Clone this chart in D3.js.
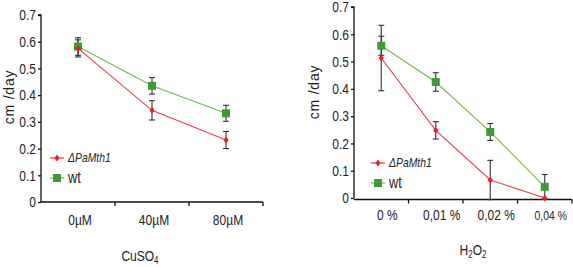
<!DOCTYPE html>
<html>
<head>
<meta charset="utf-8">
<script src="https://cdn.jsdelivr.net/npm/d3@7"></script>
<style>
  body { margin: 0; background: #fff; }
  svg { display: block; }
  text { font-family: "Liberation Sans", Arial, sans-serif; fill: #222; }
</style>
</head>
<body>
<svg id="chart" width="573" height="267"></svg>
<script>
// left panel: CuSO4
const cuCats = ['0µM', '40µM', '80µM']
const cuMut = [0.575, 0.343, 0.232]
const cuMutErr = [0.032, 0.036, 0.032]
const cuWt = [0.582, 0.435, 0.332]
const cuWtErr = [0.033, 0.031, 0.030]

// right panel: H2O2
const hCats = ['0 %', '0,01 %', '0,02 %', '0,04 %']
const hMut = [0.513, 0.248, 0.066, 0.0]
const hMutErr = [0.12, 0.032, 0.072, 0]
const hWt = [0.558, 0.425, 0.242, 0.041]
const hWtErr = [0.035, 0.034, 0.031, 0.045]

const yTicks = [0, 0.1, 0.2, 0.3, 0.4, 0.5, 0.6, 0.7]

const red = '#e0242c', redLine = '#e0404a'
const green = '#3f9a35', greenLine = '#72b84e'
const narrow = 0.8 // no narrow font installed, squeeze text horizontally

const svg = d3.select('#chart')

function panel(opt) {
	const x = d3.scaleBand().domain(opt.cats).range([opt.left, opt.right]).padding(0)
	const y = d3.scaleLinear().domain([0, 0.7]).range([opt.bottom, opt.top])
	const cx = d => x(d) + x.bandwidth() / 2

	const g = svg.append('g')

	// y axis
	g.append('g')
		.attr('transform', `translate(${opt.left},0)`)
		.call(d3.axisLeft(y).tickValues(yTicks).tickSize(3).tickPadding(2)
			.tickFormat(d => d === 0 ? '0' : d.toFixed(1)))
		.call(a => a.select('.domain').attr('d', `M-3,${y(0.7)}H0V${opt.bottom}`).attr('stroke', '#111').attr('stroke-width', 1.3))
		.call(a => a.selectAll('.tick line').attr('stroke', '#111').attr('stroke-width', 1.3))
		.call(a => a.selectAll('.tick text')
			.attr('x', 0).attr('transform', `translate(-5,0) scale(${narrow},1)`)
			.style('font-size', '15px').attr('fill', '#222'))

	// x axis: ticks at band boundaries
	const bounds = opt.cats.map(c => x(c)).concat([opt.right])
	g.append('line')
		.attr('x1', opt.left).attr('x2', opt.right)
		.attr('y1', opt.axisY).attr('y2', opt.axisY)
		.attr('stroke', '#111').attr('stroke-width', 1.3)
	g.selectAll('.xt').data(bounds.slice(1)).enter().append('line')
		.attr('x1', d => d).attr('x2', d => d)
		.attr('y1', opt.axisY).attr('y2', opt.axisY + 4)
		.attr('stroke', '#111').attr('stroke-width', 1.3)
	g.selectAll('.xl').data(opt.cats).enter().append('text')
		.attr('transform', d => `translate(${cx(d) + opt.labelDx},${opt.labelY}) scale(${narrow},1)`)
		.attr('text-anchor', 'middle')
		.style('font-size', (d, i) => (opt.labelSizes ? opt.labelSizes[i] : 15) + 'px')
		.text(d => d)

	// axis titles
	g.append('text')
		.attr('transform', `translate(${opt.yTitleX},${opt.yTitleY}) rotate(-90)`)
		.attr('text-anchor', 'middle')
		.style('font-size', '14px')
		.style('letter-spacing', '0.8px')
		.text('cm /day')
	const xt = g.append('text')
		.attr('transform', `translate(${opt.xTitleX},${opt.xTitleY}) scale(${narrow},1)`)
		.attr('text-anchor', 'middle')
		.style('font-size', '15px')
	opt.xTitle.forEach(p => {
		xt.append('tspan').text(p.t)
			.attr('dy', p.sub ? 3 : (p.after ? -3 : 0))
			.style('font-size', p.sub ? '10px' : '15px')
	})

	// series
	const series = [
		{ vals: opt.wt, err: opt.wtErr, color: green, line: greenLine, shape: 'square' },
		{ vals: opt.mut, err: opt.mutErr, color: red, line: redLine, shape: 'diamond' }
	]
	series.forEach(s => {
		const pts = opt.cats.map((c, i) => ({ c, v: s.vals[i], e: s.err[i] }))
		g.append('path').datum(pts)
			.attr('fill', 'none').attr('stroke', s.line).attr('stroke-width', 1.1)
			.attr('d', d3.line().x(d => cx(d.c)).y(d => y(d.v)))
	})
	series.forEach(s => {
		const pts = opt.cats.map((c, i) => ({ c, v: s.vals[i], e: s.err[i] })).filter(d => d.e > 0)
		const eb = g.selectAll(null).data(pts).enter().append('g').attr('stroke', '#333').attr('stroke-width', 1.1)
		eb.append('line').attr('x1', d => cx(d.c)).attr('x2', d => cx(d.c))
			.attr('y1', d => y(d.v + d.e)).attr('y2', d => y(d.v - d.e))
		eb.append('line').attr('x1', d => cx(d.c) - 3).attr('x2', d => cx(d.c) + 3)
			.attr('y1', d => y(d.v + d.e)).attr('y2', d => y(d.v + d.e))
		eb.append('line').attr('x1', d => cx(d.c) - 3).attr('x2', d => cx(d.c) + 3)
			.attr('y1', d => y(d.v - d.e)).attr('y2', d => y(d.v - d.e))
	})
	series.forEach(s => {
		const pts = opt.cats.map((c, i) => ({ c, v: s.vals[i] }))
		marker(g, pts.map(d => [cx(d.c), y(d.v)]), s)
	})

	// legend
	const lg = g.append('g')
	series.slice().reverse().forEach((s, i) => {
		const ly = opt.legendY + i * 20
		lg.append('line').attr('x1', opt.legendX).attr('x2', opt.legendX + 14)
			.attr('y1', ly).attr('y2', ly).attr('stroke', s.line).attr('stroke-width', 1.2)
		marker(lg, [[opt.legendX + 7, ly]], s)
		lg.append('text')
			.attr('transform', `translate(${opt.legendX + 18},${ly + (s.shape === 'square' ? 5 : 4)}) scale(${narrow},1)`)
			.style('font-size', s.shape === 'square' ? '16px' : '13px')
			.style('font-style', s.shape === 'square' ? 'normal' : 'italic')
			.text(s.shape === 'square' ? 'wt' : 'ΔPaMth1')
	})
}

function marker(g, pts, s) {
	if (s.shape === 'square') {
		g.selectAll(null).data(pts).enter().append('rect')
			.attr('x', d => d[0] - 4).attr('y', d => d[1] - 4)
			.attr('width', 8).attr('height', 8).attr('fill', s.color)
	} else {
		g.selectAll(null).data(pts).enter().append('path')
			.attr('transform', d => `translate(${d[0]},${d[1]})`)
			.attr('d', 'M0,-3.5L2.6,0L0,3.5L-2.6,0Z').attr('fill', s.color)
	}
}

panel({
	cats: cuCats, mut: cuMut, mutErr: cuMutErr, wt: cuWt, wtErr: cuWtErr,
	left: 41, right: 263, top: 15, bottom: 202, axisY: 202,
	labelY: 225, labelDx: 2,
	yTitleX: 14, yTitleY: 97,
	xTitle: [{ t: 'CuSO' }, { t: '4', sub: true }], xTitleX: 140, xTitleY: 261,
	legendX: 50, legendY: 158
})

panel({
	cats: hCats, mut: hMut, mutErr: hMutErr, wt: hWt, wtErr: hWtErr,
	left: 354, right: 572, top: 7, bottom: 198, axisY: 199.5,
	labelY: 220, labelDx: 6, labelSizes: [15, 15, 15, 13],
	yTitleX: 319, yTitleY: 92,
	xTitle: [{ t: 'H' }, { t: '2', sub: true }, { t: 'O', after: true }, { t: '2', sub: true }], xTitleX: 473, xTitleY: 255,
	legendX: 371, legendY: 163
})
</script>
</body>
</html>
